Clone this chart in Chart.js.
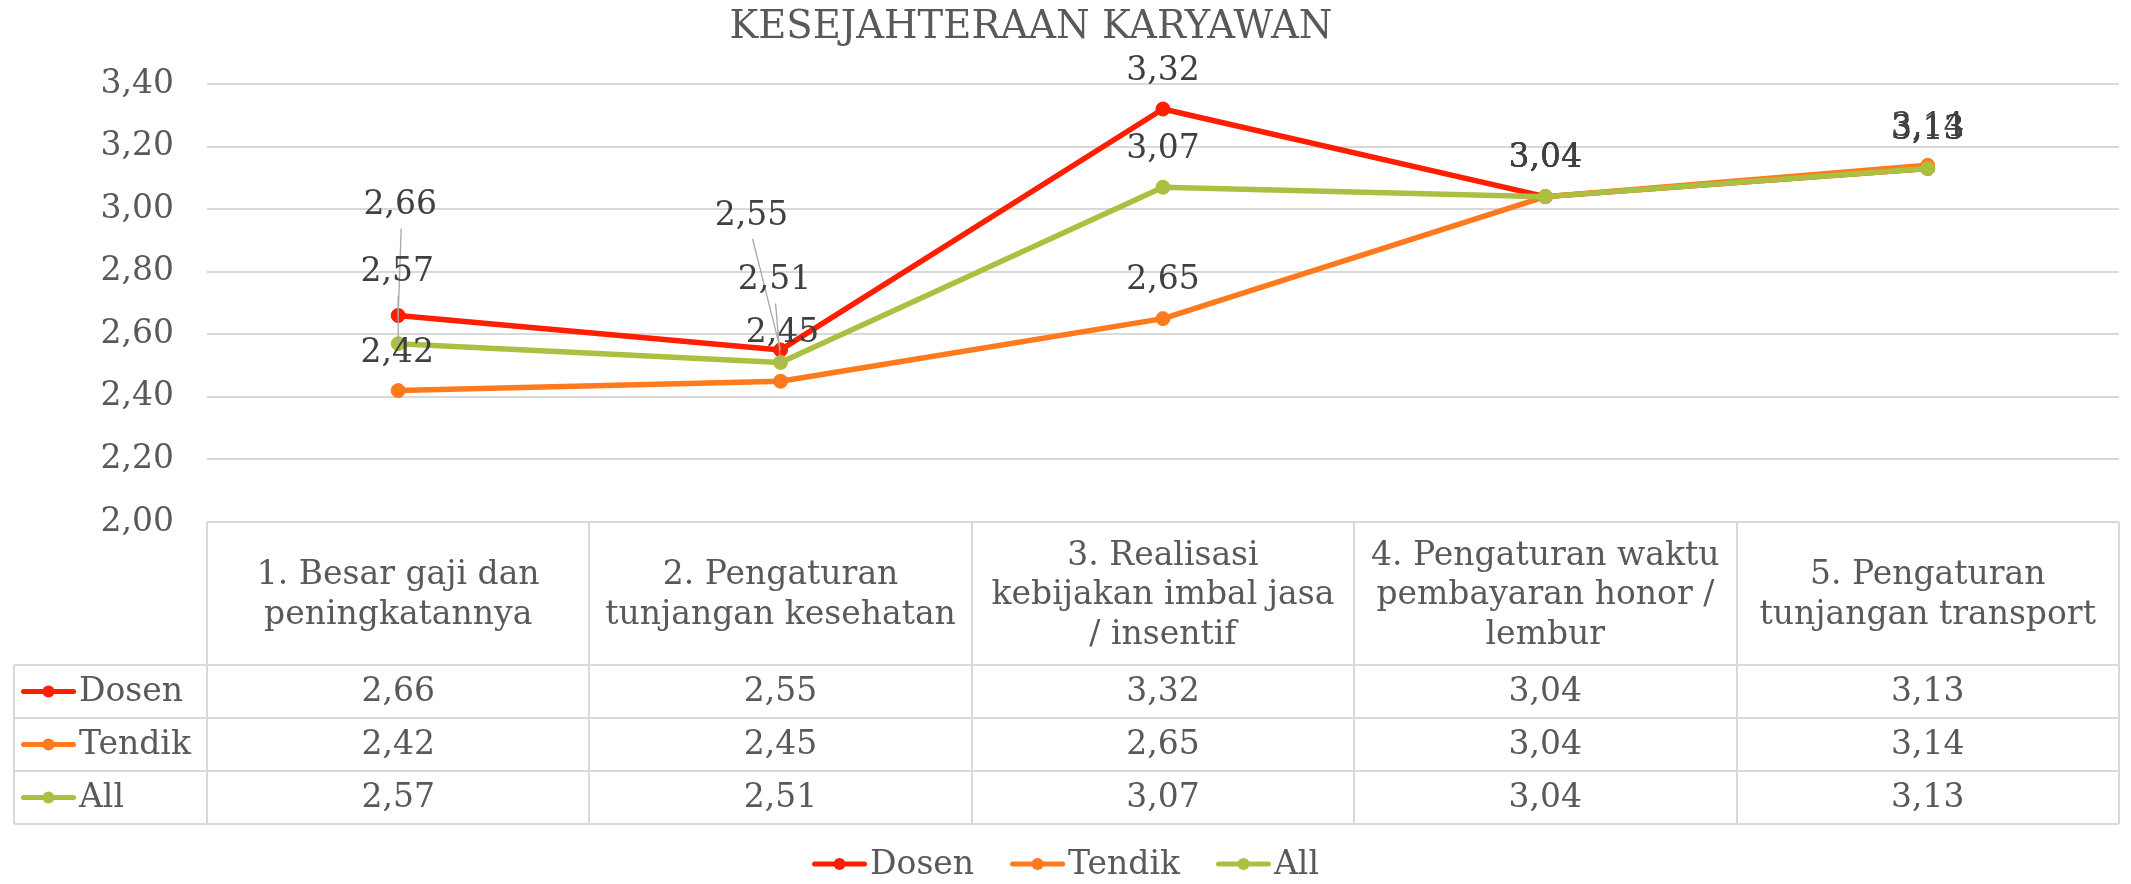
<!DOCTYPE html>
<html>
<head>
<meta charset="utf-8">
<script src="https://cdn.jsdelivr.net/npm/chart.js@4.4.1/dist/chart.umd.min.js"></script>
<style>
html, body { margin: 0; padding: 0; background: #ffffff; }
#wrap { width: 2131px; height: 884px; }
</style>
</head>
<body>
<div id="wrap"><canvas id="c" width="2131" height="884"></canvas></div>
<script>
// ---------- data ----------
const categories = [
  ['1. Besar gaji dan', 'peningkatannya'],
  ['2. Pengaturan', 'tunjangan kesehatan'],
  ['3. Realisasi', 'kebijakan imbal jasa', '/ insentif'],
  ['4. Pengaturan waktu', 'pembayaran honor /', 'lembur'],
  ['5. Pengaturan', 'tunjangan transport']
];
const seriesNames = ['Dosen', 'Tendik', 'All'];
const dosenValues  = [2.66, 2.55, 3.32, 3.04, 3.13];
const tendikValues = [2.42, 2.45, 2.65, 3.04, 3.14];
const allValues    = [2.57, 2.51, 3.07, 3.04, 3.13];
const chartTitle = 'KESEJAHTERAAN KARYAWAN';
const yMin = 2.0, yMax = 3.4, yStep = 0.2;

// ---------- styles ----------
const FONT = "'DejaVu Serif', serif";
const TEXT = '#595959';
const LABEL_TEXT = '#404040';
const GRID = '#D9D9D9';
const seriesColors = ['#FF1E00', '#FF7A1C', '#ABC040'];
// manual data-label offsets (px from the point); null = default (above)
const labelOffsets = [
  [[2, -110], [-29, -134], null, null, null],
  [[-1, -37], [2, -48], null, null, null],
  [[-1, -71], [-6, -82], null, null, null]
];
const DEFAULT_OFFSET = [0, -38];

const fmt = v => v.toFixed(2).replace('.', ',');

// ---------- plugins ----------
function drawIcon(ctx, x, y, color) {
  ctx.save();
  ctx.strokeStyle = color;
  ctx.lineWidth = 5;
  ctx.lineCap = 'round';
  ctx.beginPath();
  ctx.moveTo(x + 2.5, y);
  ctx.lineTo(x + 52.5, y);
  ctx.stroke();
  ctx.fillStyle = color;
  ctx.beginPath();
  ctx.arc(x + 27.5, y, 6, 0, Math.PI * 2);
  ctx.fill();
  ctx.restore();
}

const titlePlugin = {
  id: 'customTitle',
  afterDraw(chart) {
    const ctx = chart.ctx;
    ctx.save();
    ctx.font = `38.5px ${FONT}`;
    ctx.fillStyle = TEXT;
    ctx.textAlign = 'center';
    ctx.textBaseline = 'middle';
    ctx.fillText(chartTitle, 1031, 27.5);
    ctx.restore();
  }
};

const dataLabelPlugin = {
  id: 'dataLabels',
  afterDatasetsDraw(chart) {
    const ctx = chart.ctx;
    ctx.save();
    ctx.font = `33px ${FONT}`;
    ctx.textAlign = 'center';
    ctx.textBaseline = 'middle';
    chart.data.datasets.forEach((ds, i) => {
      const meta = chart.getDatasetMeta(i);
      meta.data.forEach((pt, j) => {
        const off = (labelOffsets[i] && labelOffsets[i][j]) || DEFAULT_OFFSET;
        const lx = pt.x + off[0], ly = pt.y + off[1];
        if (off[1] < -60) {
          ctx.strokeStyle = '#A6A6A6';
          ctx.lineWidth = 1.3;
          ctx.beginPath();
          ctx.moveTo(lx + 1, ly + 23);
          ctx.lineTo(pt.x, pt.y);
          ctx.stroke();
        }
        ctx.fillStyle = LABEL_TEXT;
        ctx.fillText(fmt(ds.data[j]), lx, ly);
      });
    });
    ctx.restore();
  }
};

const tablePlugin = {
  id: 'dataTable',
  afterDraw(chart) {
    const ctx = chart.ctx;
    const area = chart.chartArea;
    const xs = chart.scales.x;
    const n = categories.length;
    const colW = (area.right - area.left) / n;
    const headerH = 143, rowH = 53, tableLeft = 14;
    const top = area.bottom;
    const headBottom = top + headerH;
    const bottom = headBottom + rowH * chart.data.datasets.length;
    ctx.save();
    ctx.strokeStyle = GRID;
    ctx.lineWidth = 2;
    for (let i = 0; i <= n; i++) {
      const x = Math.round(area.left + i * colW);
      ctx.beginPath();
      ctx.moveTo(x, top);
      ctx.lineTo(x, bottom);
      ctx.stroke();
    }
    ctx.beginPath();
    ctx.moveTo(tableLeft, headBottom);
    ctx.lineTo(tableLeft, bottom);
    ctx.stroke();
    ctx.beginPath();
    ctx.moveTo(area.left, top);
    ctx.lineTo(area.right, top);
    ctx.stroke();
    for (let r = 0; r <= chart.data.datasets.length; r++) {
      const y = Math.round(headBottom + r * rowH);
      ctx.beginPath();
      ctx.moveTo(tableLeft, y);
      ctx.lineTo(area.right, y);
      ctx.stroke();
    }
    ctx.font = `33px ${FONT}`;
    ctx.textBaseline = 'middle';
    chart.data.datasets.forEach((ds, r) => {
      const cy = headBottom + r * rowH + rowH / 2;
      drawIcon(ctx, 21, cy, ds.borderColor);
      ctx.fillStyle = TEXT;
      ctx.textAlign = 'left';
      ctx.fillText(ds.label, 79, cy + 1);
      ctx.textAlign = 'center';
      ds.data.forEach((v, j) => {
        ctx.fillText(fmt(v), xs.getPixelForValue(j), cy + 1);
      });
    });
    // bottom legend
    const items = chart.data.datasets.map(ds => ({
      label: ds.label, color: ds.borderColor, w: ctx.measureText(ds.label).width
    }));
    const iconW = 58, gap = 36;
    let total = 0;
    items.forEach((it, k) => { total += iconW + it.w + (k < items.length - 1 ? gap : 0); });
    let x = chart.width / 2 - total / 2;
    const ly = 864;
    items.forEach(it => {
      drawIcon(ctx, x, ly, it.color);
      ctx.fillStyle = TEXT;
      ctx.textAlign = 'left';
      ctx.fillText(it.label, x + iconW, ly + 1);
      x += iconW + it.w + gap;
    });
    ctx.restore();
  }
};

// ---------- chart ----------
const seriesValues = [dosenValues, tendikValues, allValues];
const datasets = seriesNames.map((name, i) => ({
  label: name,
  data: seriesValues[i],
  borderColor: seriesColors[i],
  backgroundColor: seriesColors[i],
  pointBackgroundColor: seriesColors[i],
  pointBorderColor: seriesColors[i],
  borderWidth: 5.5,
  pointRadius: 7,
  pointBorderWidth: 1,
  borderJoinStyle: 'round',
  borderCapStyle: 'round',
  tension: 0,
  fill: false,
  order: seriesNames.length - i
}));

new Chart(document.getElementById('c'), {
  type: 'line',
  data: { labels: categories, datasets },
  options: {
    responsive: false,
    animation: false,
    devicePixelRatio: 1,
    layout: { padding: { top: 84, left: 0, right: 11, bottom: 0 } },
    plugins: {
      legend: { display: false },
      tooltip: { enabled: false },
      title: { display: false }
    },
    scales: {
      x: {
        offset: true,
        grid: { display: false, drawTicks: false },
        border: { display: false },
        ticks: {
          color: TEXT,
          font: { family: FONT, size: 33, lineHeight: 1.2 },
          padding: 34,
          crossAlign: 'center',
          maxRotation: 0,
          minRotation: 0,
          autoSkip: false
        },
        afterFit(s) { s.height = 362; }
      },
      y: {
        min: yMin,
        max: yMax,
        grid: { color: GRID, lineWidth: 2, drawTicks: false },
        border: { display: false },
        ticks: {
          stepSize: yStep,
          color: TEXT,
          font: { family: FONT, size: 33 },
          padding: 33,
          callback: v => fmt(v)
        },
        afterFit(s) { s.width = 207; }
      }
    }
  },
  plugins: [dataLabelPlugin, tablePlugin, titlePlugin]
});
</script>
</body>
</html>
